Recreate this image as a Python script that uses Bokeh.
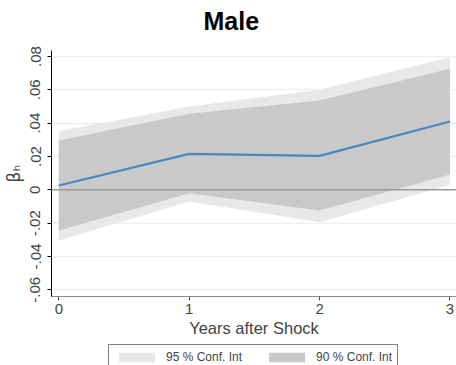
from bokeh.plotting import figure
from bokeh.layouts import column
from bokeh.models import (Range1d, FixedTicker, Span, Legend, LegendItem, Label)
from bokeh.embed import file_html
from bokeh.resources import INLINE

# Data
years = [0, 1, 2, 3]
beta = [0.0026, 0.0216, 0.0204, 0.041]
ci95_lo = [-0.0304, -0.0070, -0.0194, 0.0030]
ci95_hi = [0.0352, 0.0500, 0.0600, 0.0796]
ci90_lo = [-0.0244, -0.0020, -0.0124, 0.0092]
ci90_hi = [0.0296, 0.0456, 0.0536, 0.0727]
y_ticks = [-0.06, -0.04, -0.02, 0.0, 0.02, 0.04, 0.06, 0.08]
y_tick_labels = ["-.06", "-.04", "-.02", "0", ".02", ".04", ".06", ".08"]
x_ticks = [0, 1, 2, 3]
legend_labels = ["95 % Conf. Int", "90 % Conf. Int"]
title_text = "Male"

FONT = "Liberation Sans"
C95 = "#e8e8e8"
C90 = "#c9c9c9"
LEFT = 51

# Title strip
t = figure(width=456, height=40, output_backend="svg", toolbar_location=None,
           x_range=Range1d(0, 1), y_range=Range1d(0, 1),
           x_axis_location=None, y_axis_location=None,
           min_border_left=LEFT, min_border_right=0, min_border_top=0, min_border_bottom=0)
t.outline_line_color = None
t.grid.grid_line_color = None
t.add_layout(Label(x=0.444, y=0.5, text=title_text, text_align="center",
                   text_baseline="middle", text_font=FONT, text_font_size="25px",
                   text_font_style="bold", text_color="black"))

# Main plot
p = figure(width=456, height=302, output_backend="svg", toolbar_location=None,
           x_range=Range1d(-0.056, 3.05), y_range=Range1d(-0.064, 0.0836),
           min_border_left=LEFT, min_border_right=0, min_border_top=10, min_border_bottom=46)

p.varea(x=years, y1=ci95_lo, y2=ci95_hi, fill_color=C95)
p.varea(x=years, y1=ci90_lo, y2=ci90_hi, fill_color=C90)
p.add_layout(Span(location=0, dimension="width", line_color="#9a9a9a", line_width=1.5))
p.line(years, beta, line_color="#4a86c0", line_width=2.2)

p.outline_line_color = None
p.background_fill_color = "white"
p.border_fill_color = "white"

p.xgrid.grid_line_color = None
p.ygrid.grid_line_color = "#eaf1f2"
p.ygrid.grid_line_width = 1.3
p.ygrid.ticker = FixedTicker(ticks=y_ticks)

p.yaxis.ticker = FixedTicker(ticks=y_ticks)
p.yaxis.major_label_overrides = {t_: l for t_, l in zip(y_ticks, y_tick_labels)}
p.yaxis.major_label_orientation = "vertical"
p.yaxis.minor_tick_line_color = None
p.yaxis.axis_line_color = "black"
p.yaxis.major_tick_out = 4
p.yaxis.major_tick_in = 0
p.yaxis.major_label_standoff = 7
p.yaxis.major_label_text_font = FONT
p.yaxis.major_label_text_font_size = "15px"
p.yaxis.axis_label = "βₕ"
p.yaxis.axis_label_text_font = "DejaVu Sans"
p.yaxis.axis_label_text_font_style = "normal"
p.yaxis.axis_label_text_font_size = "17px"
p.yaxis.axis_label_standoff = 4

p.xaxis.ticker = FixedTicker(ticks=x_ticks)
p.xaxis.minor_tick_line_color = None
p.xaxis.axis_line_color = "#8a8a8a"
p.xaxis.axis_line_width = 1.2
p.xaxis.major_tick_line_color = "#555555"
p.xaxis.major_tick_out = 4
p.xaxis.major_tick_in = 0
p.xaxis.major_label_standoff = 3
p.xaxis.major_label_text_font = FONT
p.xaxis.major_label_text_font_size = "15px"
p.xaxis.axis_label = "Years after Shock"
p.xaxis.axis_label_text_font = FONT
p.xaxis.axis_label_text_font_style = "normal"
p.xaxis.axis_label_text_font_size = "16.5px"
p.xaxis.axis_label_standoff = 2

# Legend strip (the band renderers here lie outside the visible range)
q = figure(width=456, height=23, output_backend="svg", toolbar_location=None,
           x_range=Range1d(0, 1), y_range=Range1d(10, 11),
           x_axis_location=None, y_axis_location=None,
           min_border_left=LEFT, min_border_right=0, min_border_top=0, min_border_bottom=0)
q.outline_line_color = None
q.grid.grid_line_color = None
g95 = q.varea(x=years, y1=ci95_lo, y2=ci95_hi, fill_color=C95)
g90 = q.varea(x=years, y1=ci90_lo, y2=ci90_hi, fill_color=C90)
legend = Legend(items=[LegendItem(label=legend_labels[0], renderers=[g95]),
                       LegendItem(label=legend_labels[1], renderers=[g90])],
                orientation="horizontal", location=(57, -5),
                glyph_width=45, glyph_height=12, label_height=12, padding=5, spacing=22,
                label_standoff=7, label_text_font=FONT, label_text_font_size="12px",
                border_line_color="black", border_line_width=1, margin=0)
q.add_layout(legend)

open("out.html", "w").write(file_html(column(t, p, q, spacing=0), INLINE))
